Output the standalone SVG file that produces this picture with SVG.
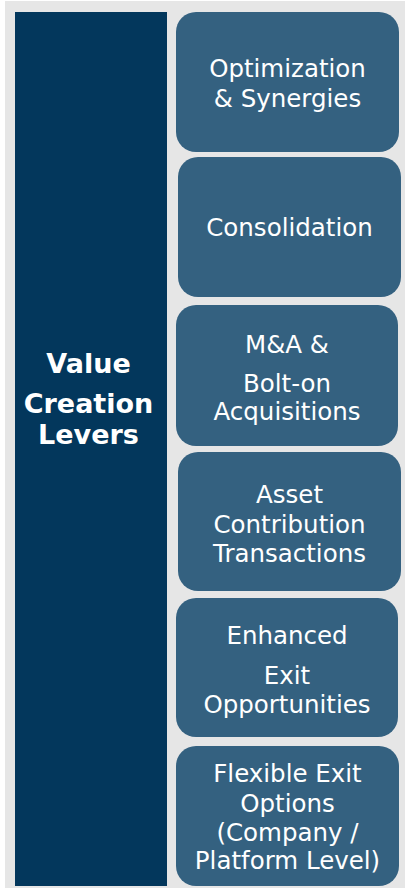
<svg xmlns="http://www.w3.org/2000/svg" width="409" height="891" viewBox="0 0 409 891">
  <style>
    .panel { fill: #e6e6e6; }
    .spine { fill: #03375c; }
    .lever { fill: #346180; }
    .t { font-family: "DejaVu Sans", Verdana, sans-serif; font-size: 24.5px; fill: #ffffff; text-anchor: middle; }
    .title { font-family: "DejaVu Sans", Verdana, sans-serif; font-size: 27px; font-weight: bold; fill: #ffffff; text-anchor: middle; }
  </style>
  <rect width="409" height="891" fill="#ffffff"/>
  <rect class="panel" x="5" y="1" width="400" height="887"/>

  <g id="value-creation-levers">
    <rect class="spine" x="15" y="12" width="152" height="874"/>
    <text class="title" x="88.5" y="373">Value</text>
    <text class="title" x="88.5" y="413">Creation</text>
    <text class="title" x="88.5" y="444">Levers</text>
  </g>

  <g id="optimization">
    <rect class="lever" x="176" y="12" width="223" height="140" rx="20"/>
    <text class="t" x="287.5" y="77">Optimization</text>
    <text class="t" x="287.5" y="107">&amp; Synergies</text>
  </g>

  <g id="consolidation">
    <rect class="lever" x="178" y="157" width="223" height="140" rx="20"/>
    <text class="t" x="289.5" y="236">Consolidation</text>
  </g>

  <g id="m-and-a">
    <rect class="lever" x="176" y="305" width="222" height="141" rx="20"/>
    <text class="t" x="287" y="353">M&amp;A &amp;</text>
    <text class="t" x="287" y="392">Bolt-on</text>
    <text class="t" x="287" y="420">Acquisitions</text>
  </g>

  <g id="asset-contribution">
    <rect class="lever" x="178" y="452" width="223" height="139" rx="20"/>
    <text class="t" x="289.5" y="503">Asset</text>
    <text class="t" x="289.5" y="533">Contribution</text>
    <text class="t" x="289.5" y="562">Transactions</text>
  </g>

  <g id="enhanced-exit">
    <rect class="lever" x="176" y="598" width="222" height="139" rx="20"/>
    <text class="t" x="287" y="644">Enhanced</text>
    <text class="t" x="287" y="684">Exit</text>
    <text class="t" x="287" y="713">Opportunities</text>
  </g>

  <g id="flexible-exit">
    <rect class="lever" x="176" y="746" width="223" height="140" rx="20"/>
    <text class="t" x="287.5" y="782">Flexible Exit</text>
    <text class="t" x="287.5" y="812">Options</text>
    <text class="t" x="287.5" y="841">(Company /</text>
    <text class="t" x="287.5" y="869">Platform Level)</text>
  </g>
</svg>
